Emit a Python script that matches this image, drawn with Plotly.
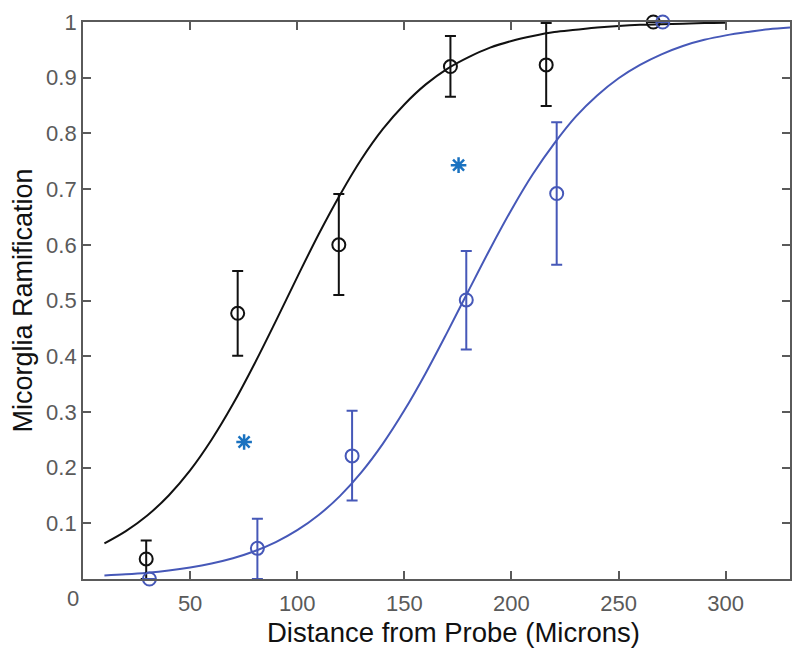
import plotly.graph_objects as go

# ---- data ----
black_x = [29.5, 72.2, 119.4, 171.5, 216.2, 266.2]
black_y = [0.036, 0.477, 0.600, 0.920, 0.923, 1.0]
black_hi = [0.069, 0.553, 0.691, 0.975, 0.998, 1.0]
black_lo = [0.0, 0.401, 0.510, 0.866, 0.849, 1.0]

blue_x = [31.0, 81.4, 125.6, 178.9, 221.1, 270.6]
blue_y = [0.0, 0.055, 0.221, 0.501, 0.692, 1.0]
blue_hi = [0.0, 0.108, 0.302, 0.589, 0.820, 1.0]
blue_lo = [0.0, 0.0, 0.141, 0.412, 0.564, 1.0]

star_x = [75.2, 175.3]
star_y = [0.246, 0.743]

black_fit_x = [10, 20, 30, 40, 50, 60, 70, 80, 90, 100, 110, 120, 130, 140, 150,
               160, 170, 180, 190, 200, 210, 220, 230, 240, 250, 260, 270, 280, 290, 300]
black_fit_y = [0.064, 0.086, 0.114, 0.150, 0.195, 0.250, 0.314, 0.386, 0.463, 0.542,
               0.619, 0.690, 0.754, 0.808, 0.852, 0.888, 0.916, 0.937, 0.954, 0.966,
               0.975, 0.982, 0.986, 0.990, 0.993, 0.995, 0.996, 0.997, 0.998, 0.9985]

blue_fit_x = [10, 20, 30, 40, 50, 60, 70, 80, 90, 100, 110, 120, 130, 140, 150, 160, 170,
              180, 190, 200, 210, 220, 230, 240, 250, 260, 270, 280, 290, 300, 310, 320, 330]
blue_fit_y = [0.0063, 0.0085, 0.0114, 0.0154, 0.0208, 0.0279, 0.0373, 0.0498, 0.0662,
              0.0876, 0.1149, 0.1493, 0.1919, 0.2431, 0.3028, 0.370, 0.4428, 0.518,
              0.5925, 0.663, 0.727, 0.782, 0.830, 0.868, 0.899, 0.923, 0.942, 0.957,
              0.968, 0.976, 0.982, 0.987, 0.990]

x_ticks = [50, 100, 150, 200, 250, 300]
y_ticks = [0.1, 0.2, 0.3, 0.4, 0.5, 0.6, 0.7, 0.8, 0.9, 1.0]
y_ticklabels = ["0.1", "0.2", "0.3", "0.4", "0.5", "0.6", "0.7", "0.8", "0.9", "1"]
x_title = "Distance from Probe (Microns)"
y_title = "Micorglia Ramification"

BLACK = "#111111"
BLUE = "#4658b8"
STAR = "#1a72c0"
AXIS = "#5a5a5a"
FONT = "Liberation Sans, Arial, sans-serif"

fig = go.Figure()

fig.add_trace(go.Scatter(x=black_fit_x, y=black_fit_y, mode="lines",
                         line=dict(color=BLACK, width=2, shape="spline"), hoverinfo="skip"))
fig.add_trace(go.Scatter(x=blue_fit_x, y=blue_fit_y, mode="lines",
                         line=dict(color=BLUE, width=2, shape="spline"), hoverinfo="skip"))

fig.add_trace(go.Scatter(
    x=black_x, y=black_y, mode="markers", cliponaxis=False,
    marker=dict(symbol="circle-open", size=13, color=BLACK, line=dict(width=2, color=BLACK)),
    error_y=dict(type="data", symmetric=False,
                 array=[h - v for h, v in zip(black_hi, black_y)],
                 arrayminus=[v - l for v, l in zip(black_y, black_lo)],
                 color=BLACK, thickness=2, width=5.5)))

fig.add_trace(go.Scatter(
    x=blue_x, y=blue_y, mode="markers", cliponaxis=False,
    marker=dict(symbol="circle-open", size=13, color=BLUE, line=dict(width=2, color=BLUE)),
    error_y=dict(type="data", symmetric=False,
                 array=[h - v for h, v in zip(blue_hi, blue_y)],
                 arrayminus=[v - l for v, l in zip(blue_y, blue_lo)],
                 color=BLUE, thickness=2, width=5.5)))

fig.add_trace(go.Scatter(
    x=star_x, y=star_y, mode="markers", cliponaxis=False,
    marker=dict(symbol="asterisk-open", size=13, color=STAR, line=dict(width=2.5, color=STAR))))

fig.add_annotation(x=0, y=0, xref="x", yref="y", text="0", showarrow=False,
                   xshift=-10, yshift=-19, xanchor="center", yanchor="middle",
                   font=dict(family=FONT, size=22, color=AXIS))

fig.add_annotation(x=0.5, y=0, xref="paper", yref="paper", text=x_title, showarrow=False,
                   xshift=17, yshift=-53, xanchor="center", yanchor="middle",
                   font=dict(family=FONT, size=27.5, color=BLACK))

# the page body has an 8px default margin, so margins are offset to place the plot area
fig.update_layout(
    width=800, height=663,
    margin=dict(l=75, r=18, t=14, b=92),
    paper_bgcolor="white", plot_bgcolor="white",
    showlegend=False,
    font=dict(family=FONT, size=22, color=AXIS),
)
fig.update_xaxes(
    range=[0, 330], tickvals=x_ticks, ticks="inside", ticklen=8, tickwidth=1.5,
    tickcolor=AXIS, showline=True, linecolor=AXIS, linewidth=1.8, mirror="ticks",
    showgrid=False, zeroline=False, automargin=False, ticklabelstandoff=4,
    tickfont=dict(family=FONT, size=22, color=AXIS),
)
fig.update_yaxes(
    range=[0, 1], tickvals=y_ticks, ticktext=y_ticklabels, ticks="inside", ticklen=8,
    tickwidth=1.5, tickcolor=AXIS, showline=True, linecolor=AXIS, linewidth=1.8,
    mirror="ticks", showgrid=False, zeroline=False, automargin=False,
    tickfont=dict(family=FONT, size=22, color=AXIS),
    title=dict(text=y_title, standoff=8,
               font=dict(family=FONT, size=27, color=BLACK)),
)

fig.write_html("out.html")
